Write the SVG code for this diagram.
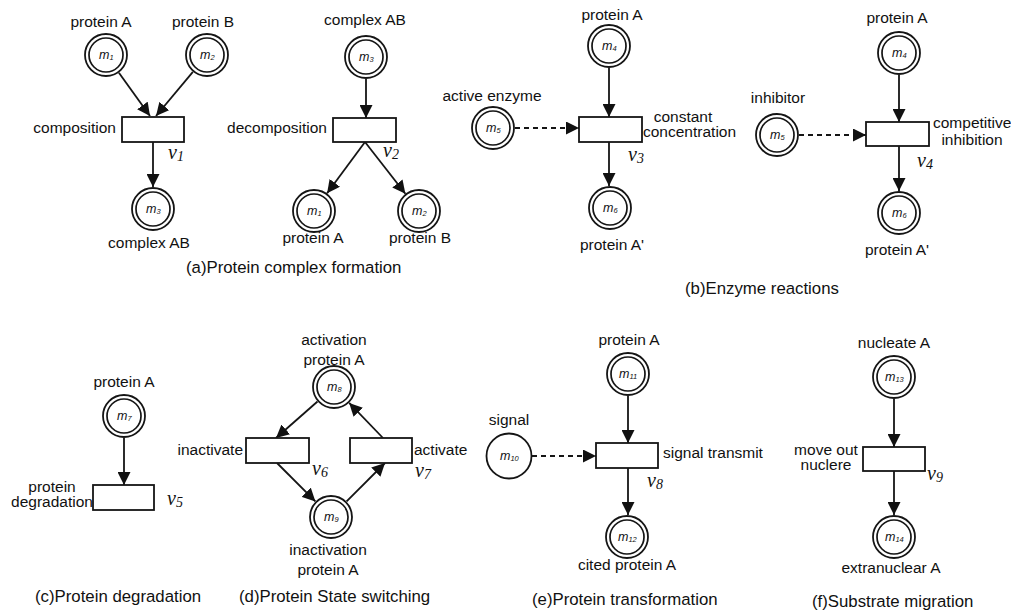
<svg xmlns="http://www.w3.org/2000/svg" width="1011" height="613" viewBox="0 0 1011 613">
<style>
.bg{fill:#fff}
.outer{fill:#fff;stroke:#151515;stroke-width:1.8}
.inner{fill:none;stroke:#151515;stroke-width:1.7}
.trans{fill:#fff;stroke:#151515;stroke-width:1.8}
.arc{fill:none;stroke:#151515;stroke-width:1.8}
.dash{fill:none;stroke:#151515;stroke-width:1.8;stroke-dasharray:5 4}
text{font-family:"Liberation Sans",Arial,sans-serif;fill:#111}
.lbl{font-size:15.5px}
.cap{font-size:16.8px}
.m{font-size:12.5px;font-style:italic}
.ms{font-size:7.5px;font-style:italic}
.v{font-family:"Liberation Serif","Times New Roman",serif;font-size:20px;font-style:italic}
.vs{font-family:"Liberation Serif","Times New Roman",serif;font-size:14px;font-style:italic}
.mid{text-anchor:middle}
.end{text-anchor:end}
</style>
<defs>
<marker id="ah" markerUnits="userSpaceOnUse" viewBox="0 0 12 12" markerWidth="13" markerHeight="13" refX="12" refY="6" orient="auto">
<path d="M0,0 L12,6 L0,12 z" fill="#111"/>
</marker>
</defs>
<rect class="bg" x="0" y="0" width="1011" height="613"/>

<g id="connectors">
<!-- a1 -->
<line class="arc" x1="118.9" y1="72.8" x2="150" y2="116" marker-end="url(#ah)"/>
<line class="arc" x1="192.9" y1="71.9" x2="156" y2="116" marker-end="url(#ah)"/>
<line class="arc" x1="153" y1="142" x2="153" y2="187" marker-end="url(#ah)"/>
<!-- a2 -->
<line class="arc" x1="366" y1="79" x2="366" y2="118" marker-end="url(#ah)"/>
<line class="arc" x1="365" y1="142" x2="327.1" y2="193.3" marker-end="url(#ah)"/>
<line class="arc" x1="365" y1="142" x2="405.4" y2="193.7" marker-end="url(#ah)"/>
<!-- b1 -->
<line class="arc" x1="609" y1="68" x2="609" y2="117" marker-end="url(#ah)"/>
<line class="arc" x1="609" y1="142" x2="609" y2="186" marker-end="url(#ah)"/>
<line class="dash" x1="515" y1="128" x2="579" y2="128" marker-end="url(#ah)"/>
<!-- b2 -->
<line class="arc" x1="899" y1="75" x2="899" y2="122" marker-end="url(#ah)"/>
<line class="arc" x1="899" y1="146" x2="899" y2="191" marker-end="url(#ah)"/>
<line class="dash" x1="799" y1="135" x2="866" y2="135" marker-end="url(#ah)"/>
<!-- c -->
<line class="arc" x1="124" y1="438" x2="124" y2="485" marker-end="url(#ah)"/>
<!-- d -->
<line class="arc" x1="317.5" y1="401.5" x2="276" y2="438" marker-end="url(#ah)"/>
<line class="arc" x1="277" y1="463" x2="315.4" y2="501.4" marker-end="url(#ah)"/>
<line class="arc" x1="346.6" y1="501.4" x2="385" y2="463" marker-end="url(#ah)"/>
<line class="arc" x1="383" y1="438" x2="349.2" y2="402.9" marker-end="url(#ah)"/>
<!-- e -->
<line class="arc" x1="628" y1="396" x2="628" y2="443" marker-end="url(#ah)"/>
<line class="arc" x1="628" y1="468" x2="628" y2="515" marker-end="url(#ah)"/>
<line class="dash" x1="532" y1="456" x2="596" y2="456" marker-end="url(#ah)"/>
<!-- f -->
<line class="arc" x1="894" y1="399" x2="894" y2="447" marker-end="url(#ah)"/>
<line class="arc" x1="894" y1="471" x2="894" y2="515" marker-end="url(#ah)"/>
</g>

<!-- Panel (a) left -->
<g id="a1-m1"><circle class="outer" cx="106" cy="55" r="21"/><circle class="inner" cx="106" cy="55" r="17"/><text class="m" x="99" y="59">m<tspan class="ms" dy="1">1</tspan></text><text class="lbl mid" x="101" y="27">protein A</text></g>
<g id="a1-m2"><circle class="outer" cx="207" cy="55" r="21"/><circle class="inner" cx="207" cy="55" r="17"/><text class="m" x="200" y="59">m<tspan class="ms" dy="1">2</tspan></text><text class="lbl mid" x="203" y="27">protein B</text></g>
<g id="a1-v1"><rect class="trans" x="122" y="117" width="62" height="25"/><text class="lbl end" x="116" y="133">composition</text><text class="v" x="168" y="159">v<tspan class="vs" dy="2">1</tspan></text></g>
<g id="a1-m3"><circle class="outer" cx="153" cy="209" r="21"/><circle class="inner" cx="153" cy="209" r="17"/><text class="m" x="146" y="213">m<tspan class="ms" dy="1">3</tspan></text><text class="lbl mid" x="149" y="248">complex AB</text></g>

<!-- Panel (a) right -->
<g id="a2-m3"><circle class="outer" cx="366" cy="57" r="21"/><circle class="inner" cx="366" cy="57" r="17"/><text class="m" x="359" y="61">m<tspan class="ms" dy="1">3</tspan></text><text class="lbl mid" x="365" y="25">complex AB</text></g>
<g id="a2-v2"><rect class="trans" x="333" y="118" width="63" height="24"/><text class="lbl end" x="327" y="133">decomposition</text><text class="v" x="383" y="157">v<tspan class="vs" dy="2">2</tspan></text></g>
<g id="a2-m1"><circle class="outer" cx="314" cy="211" r="21"/><circle class="inner" cx="314" cy="211" r="17"/><text class="m" x="307" y="215">m<tspan class="ms" dy="1">1</tspan></text><text class="lbl mid" x="313" y="243">protein A</text></g>
<g id="a2-m2"><circle class="outer" cx="419" cy="211" r="21"/><circle class="inner" cx="419" cy="211" r="17"/><text class="m" x="412" y="215">m<tspan class="ms" dy="1">2</tspan></text><text class="lbl mid" x="420" y="243">protein B</text></g>
<text id="cap-a" class="cap" x="186" y="273">(a)Protein complex formation</text>

<!-- Panel (b) left -->
<g id="b1-m4"><circle class="outer" cx="609" cy="46" r="21"/><circle class="inner" cx="609" cy="46" r="17"/><text class="m" x="602" y="50">m<tspan class="ms" dy="1">4</tspan></text><text class="lbl mid" x="612" y="20">protein A</text></g>
<g id="b1-m5"><circle class="outer" cx="493" cy="128" r="21"/><circle class="inner" cx="493" cy="128" r="17"/><text class="m" x="486" y="132">m<tspan class="ms" dy="1">5</tspan></text><text class="lbl mid" x="492" y="101">active enzyme</text></g>
<g id="b1-v3"><rect class="trans" x="579" y="117" width="63" height="25"/><text class="lbl mid" x="683" y="122">constant</text><text class="lbl" x="643" y="137">concentration</text><text class="v" x="628" y="161">v<tspan class="vs" dy="2">3</tspan></text></g>
<g id="b1-m6"><circle class="outer" cx="610" cy="208" r="21"/><circle class="inner" cx="610" cy="208" r="17"/><text class="m" x="603" y="212">m<tspan class="ms" dy="1">6</tspan></text><text class="lbl mid" x="612" y="250">protein A'</text></g>

<!-- Panel (b) right -->
<g id="b2-m4"><circle class="outer" cx="899" cy="53" r="21"/><circle class="inner" cx="899" cy="53" r="17"/><text class="m" x="892" y="57">m<tspan class="ms" dy="1">4</tspan></text><text class="lbl mid" x="897" y="23">protein A</text></g>
<g id="b2-m5"><circle class="outer" cx="777" cy="135" r="21"/><circle class="inner" cx="777" cy="135" r="17"/><text class="m" x="770" y="139">m<tspan class="ms" dy="1">5</tspan></text><text class="lbl mid" x="778" y="103">inhibitor</text></g>
<g id="b2-v4"><rect class="trans" x="866" y="122" width="63" height="24"/><text class="lbl" x="933" y="128">competitive</text><text class="lbl mid" x="972" y="145">inhibition</text><text class="v" x="917" y="167">v<tspan class="vs" dy="2">4</tspan></text></g>
<g id="b2-m6"><circle class="outer" cx="899" cy="213" r="21"/><circle class="inner" cx="899" cy="213" r="17"/><text class="m" x="892" y="217">m<tspan class="ms" dy="1">6</tspan></text><text class="lbl mid" x="897" y="255">protein A'</text></g>
<text id="cap-b" class="cap" x="685" y="294">(b)Enzyme reactions</text>

<!-- Panel (c) -->
<g id="c-m7"><circle class="outer" cx="124" cy="416" r="21"/><circle class="inner" cx="124" cy="416" r="17"/><text class="m" x="117" y="420">m<tspan class="ms" dy="1">7</tspan></text><text class="lbl mid" x="124" y="387">protein A</text></g>
<g id="c-v5"><rect class="trans" x="93" y="485" width="61" height="25"/><text class="lbl mid" x="52" y="492">protein</text><text class="lbl mid" x="52" y="507">degradation</text><text class="v" x="167" y="505">v<tspan class="vs" dy="2">5</tspan></text></g>
<text id="cap-c" class="cap" x="35" y="602">(c)Protein degradation</text>

<!-- Panel (d) -->
<g id="d-m8"><circle class="outer" cx="334" cy="387" r="21"/><circle class="inner" cx="334" cy="387" r="17"/><text class="m" x="327" y="391">m<tspan class="ms" dy="1">8</tspan></text><text class="lbl mid" x="334" y="345">activation</text><text class="lbl mid" x="334" y="365">protein A</text></g>
<g id="d-v6"><rect class="trans" x="246" y="438" width="63" height="25"/><text class="lbl end" x="243" y="455">inactivate</text><text class="v" x="312" y="475">v<tspan class="vs" dy="2">6</tspan></text></g>
<g id="d-v7"><rect class="trans" x="350" y="438" width="62" height="25"/><text class="lbl" x="414" y="455">activate</text><text class="v" x="415" y="477">v<tspan class="vs" dy="2">7</tspan></text></g>
<g id="d-m9"><circle class="outer" cx="331" cy="517" r="21"/><circle class="inner" cx="331" cy="517" r="17"/><text class="m" x="324" y="521">m<tspan class="ms" dy="1">9</tspan></text><text class="lbl mid" x="328" y="555">inactivation</text><text class="lbl mid" x="328" y="575">protein A</text></g>
<text id="cap-d" class="cap" x="239" y="602">(d)Protein State switching</text>

<!-- Panel (e) -->
<g id="e-m11"><circle class="outer" cx="628" cy="374" r="21"/><circle class="inner" cx="628" cy="374" r="17"/><text class="m" x="619" y="378">m<tspan class="ms" dy="1">11</tspan></text><text class="lbl mid" x="629" y="345">protein A</text></g>
<g id="e-m10"><circle class="outer" cx="509" cy="456" r="22.5"/><text class="m" x="500" y="460">m<tspan class="ms" dy="1">10</tspan></text><text class="lbl mid" x="509" y="425">signal</text></g>
<g id="e-v8"><rect class="trans" x="596" y="443" width="62" height="25"/><text class="lbl" x="663" y="458">signal transmit</text><text class="v" x="647" y="487">v<tspan class="vs" dy="2">8</tspan></text></g>
<g id="e-m12"><circle class="outer" cx="627" cy="537" r="21"/><circle class="inner" cx="627" cy="537" r="17"/><text class="m" x="618" y="541">m<tspan class="ms" dy="1">12</tspan></text><text class="lbl mid" x="627" y="570">cited protein A</text></g>
<text id="cap-e" class="cap" x="532" y="605">(e)Protein transformation</text>

<!-- Panel (f) -->
<g id="f-m13"><circle class="outer" cx="894" cy="377" r="21"/><circle class="inner" cx="894" cy="377" r="17"/><text class="m" x="885" y="381">m<tspan class="ms" dy="1">13</tspan></text><text class="lbl mid" x="894" y="348">nucleate A</text></g>
<g id="f-v9"><rect class="trans" x="863" y="447" width="62" height="24"/><text class="lbl mid" x="826" y="455">move out</text><text class="lbl mid" x="826" y="470">nuclere</text><text class="v" x="927" y="480">v<tspan class="vs" dy="2">9</tspan></text></g>
<g id="f-m14"><circle class="outer" cx="894" cy="537" r="21"/><circle class="inner" cx="894" cy="537" r="17"/><text class="m" x="885" y="541">m<tspan class="ms" dy="1">14</tspan></text><text class="lbl mid" x="891" y="573">extranuclear A</text></g>
<text id="cap-f" class="cap" x="812" y="607">(f)Substrate migration</text>
</svg>
